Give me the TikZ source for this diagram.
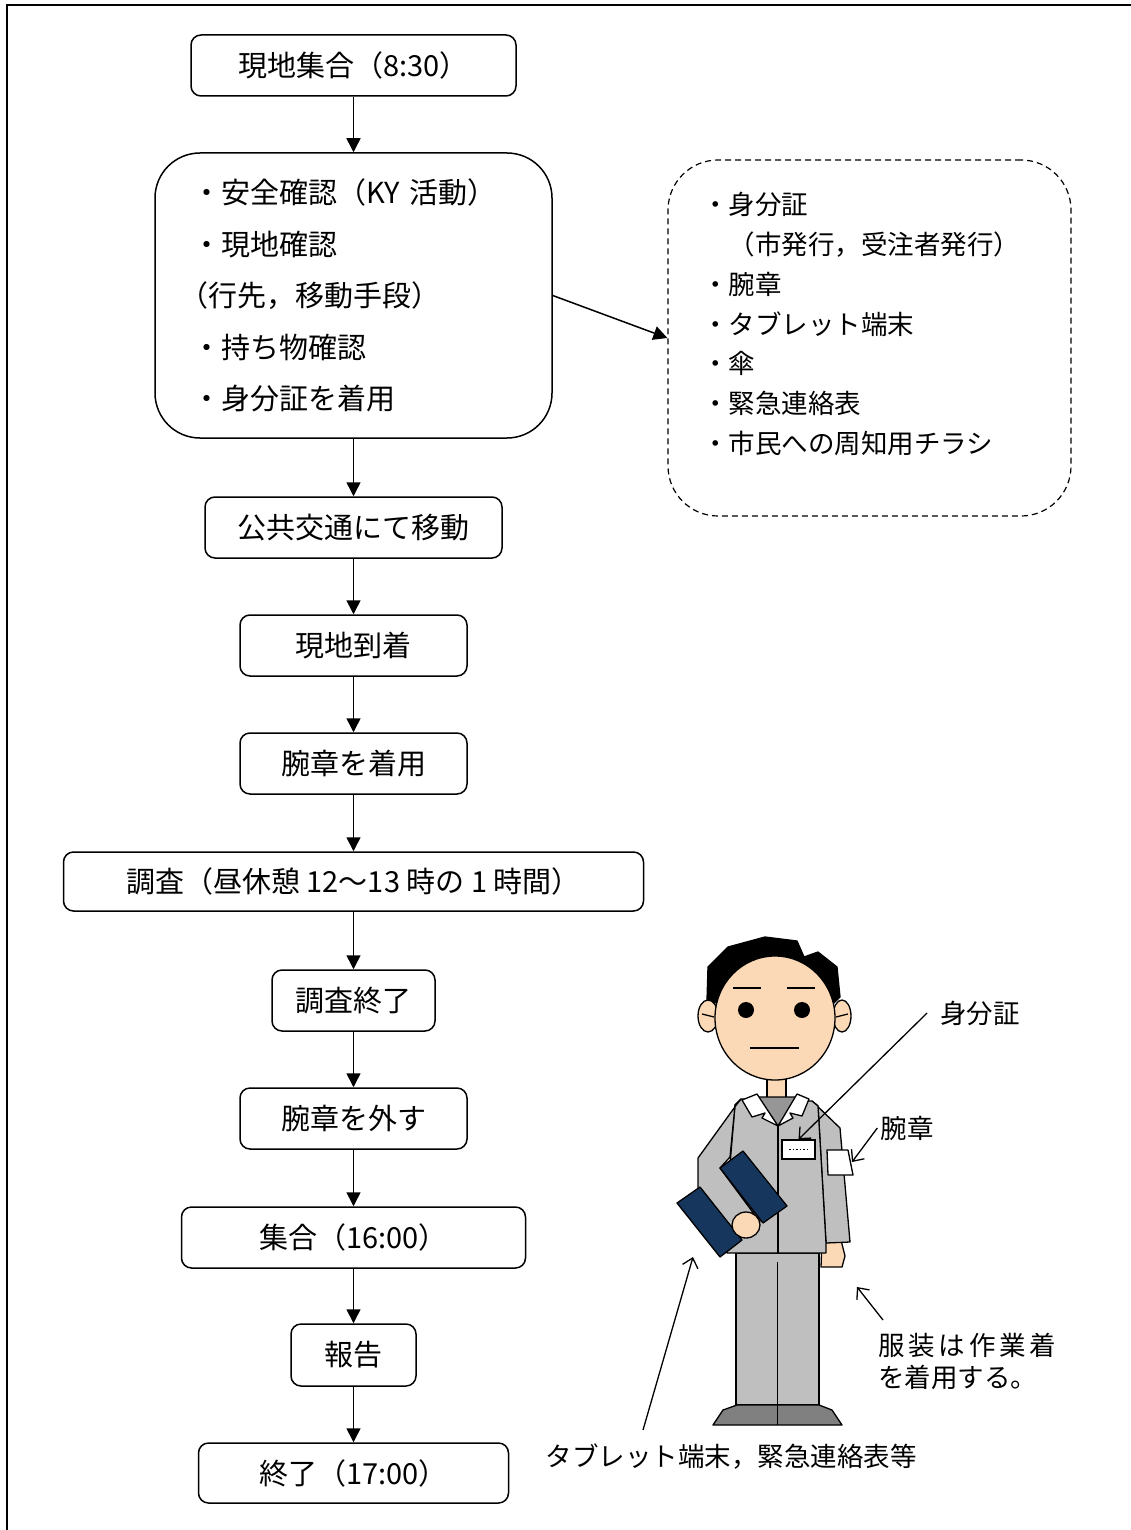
\documentclass[tikz,border=0pt]{standalone}
\usepackage{fontspec}
\setmainfont{Noto Sans CJK JP}
\usetikzlibrary{arrows.meta}

\definecolor{skin}{HTML}{FCD9B6}
\definecolor{suit}{HTML}{BFBFBF}
\definecolor{shirt}{HTML}{969696}
\definecolor{shoe}{HTML}{808080}
\definecolor{folder}{HTML}{17365D}

\tikzset{
  frame/.style={line width=1.5pt},
  flow/.style={draw, line width=1.5pt, rounded corners=10pt, inner sep=0pt,
    minimum height=61pt, font=\fontsize{29}{35}\selectfont},
  bigbox/.style={draw, line width=1.5pt, rounded corners=45pt, inner xsep=37pt,
    inner ysep=0pt, text width=323pt, minimum height=285pt, align=left,
    font=\fontsize{29}{51.5}\selectfont},
  infobox/.style={draw, line width=1.2pt, dash pattern=on 6pt off 4pt,
    rounded corners=50pt, minimum width=403pt, minimum height=356pt, inner sep=0pt},
  infotext/.style={inner sep=0pt, align=left, font=\fontsize{26.5}{39.7}\selectfont},
  link/.style={line width=1.5pt, -{Triangle[length=14pt,width=14pt]}},
  pointer/.style={line width=1.3pt, -{Straight Barb[length=9pt,width=16pt]}},
  lab/.style={inner sep=0pt, font=\fontsize{26.5}{32}\selectfont},
  fig/.style={line width=1.3pt, line join=round},
}

\begin{document}
\begin{tikzpicture}[x=1pt,y=-1pt]
\useasboundingbox (0,0) rectangle (1131,1530);
\draw[frame] (7,1530) -- (7,5) -- (1131,5);

% ---- flow of the day ----
\node[flow, minimum width=325pt] (gather) at (353.5,65.5) {現地集合（8:30）};
\node[bigbox] (check) at (353.5,295.5) {・安全確認（KY 活動）\\
・現地確認\\
\hspace*{-13pt}（行先，移動手段）\\
・持ち物確認\\
・身分証を着用};
\node[flow, minimum width=297pt] (transit) at (353.5,527.5) {公共交通にて移動};
\node[flow, minimum width=227pt] (arrive) at (353.5,645.5) {現地到着};
\node[flow, minimum width=227pt] (bandon) at (353.5,763.5) {腕章を着用};
\node[flow, minimum width=580pt, minimum height=59pt] (survey) at (353.5,881.5) {調査（昼休憩 12～13 時の 1 時間）};
\node[flow, minimum width=163pt] (surveyend) at (353.5,1000.5) {調査終了};
\node[flow, minimum width=227pt] (bandoff) at (353.5,1118.5) {腕章を外す};
\node[flow, minimum width=344pt] (regather) at (353.5,1237.5) {集合（16:00）};
\node[flow, minimum width=125pt, minimum height=62pt] (report) at (353.5,1355) {報告};
\node[flow, minimum width=310pt, minimum height=60pt] (finish) at (353.5,1473) {終了（17:00）};

\draw[link] (gather) -- (check);
\draw[link] (check) -- (transit);
\draw[link] (transit) -- (arrive);
\draw[link] (arrive) -- (bandon);
\draw[link] (bandon) -- (survey);
\draw[link] (survey) -- (surveyend);
\draw[link] (surveyend) -- (bandoff);
\draw[link] (bandoff) -- (regather);
\draw[link] (regather) -- (report);
\draw[link] (report) -- (finish);

% ---- belongings ----
\node[infobox] (info) at (869.5,338) {};
\node[infotext, anchor=west] (infolist) at (702,324) {・身分証\\
\hspace*{1em}（市発行，受注者発行）\\
・腕章\\
・タブレット端末\\
・傘\\
・緊急連絡表\\
・市民への周知用チラシ};
\draw[link] (check.east) -- (info.west);

% ---- worker figure ----
% trousers and shoes
\draw[fig, fill=suit] (736,1253) rectangle (819,1405);
\draw[fig, fill=shoe] (713,1425) -- (723,1410) -- (737,1405) -- (819,1405)
  -- (832,1410) -- (842,1425) -- cycle;
\draw[fig] (777.5,1262) -- (777.5,1425);
% hand and sleeve on the far side
\draw[fig, fill=skin] (822,1240) -- (841,1240) -- (845,1256) -- (842,1267)
  -- (821,1267) -- cycle;
\draw[fig, fill=suit] (812,1101) -- (840,1128) -- (850,1242) -- (826,1243)
  -- (818,1106) -- cycle;
% jacket body
\draw[fig, fill=suit] (741,1099) -- (812,1101) -- (818,1106) -- (826,1243)
  -- (826,1253) -- (727,1253) -- (727,1200) -- (735,1105) -- cycle;
% near sleeve
\draw[fig, fill=suit] (741,1099) -- (737,1104) -- (698,1158) -- (698,1200)
  -- (738,1240) -- (760,1222) -- (720,1168) -- (730,1157) -- (735,1105) -- cycle;
% neck, shirt and collar
\fill[skin] (767,1074) rectangle (786,1100);
\draw[fig] (767,1074) -- (767,1098) (786,1074) -- (786,1098);
\draw[fig, fill=shirt] (758,1097) -- (798,1097) -- (778,1126) -- cycle;
\draw[fig, fill=white] (742,1100) -- (757,1094) -- (778,1126) -- (762,1118)
  -- (765,1113) -- (752,1117) -- cycle;
\draw[fig, fill=white] (809,1099) -- (797,1094) -- (778,1126) -- (793,1118)
  -- (790,1113) -- (802,1116) -- cycle;
\draw[fig] (778,1126) -- (778,1253);
% name badge and armband
\node[draw, fill=white, line width=1.3pt, minimum width=33pt, minimum height=19pt,
  inner sep=0pt] (badge) at (798.5,1149.5) {};
\draw[line width=1.5pt, dash pattern=on 1.5pt off 2pt] (789,1149.5) -- (809,1149.5);
\draw[fig, fill=white] (827,1150) -- (848,1150) -- (853,1175) -- (828,1175) -- cycle;
\coordinate (bandpt) at (852,1162);
% folder held under the arm
\draw[fig, fill=folder] (720,1168) -- (743,1151) -- (787,1206) -- (763,1223) -- cycle;
\draw[fig, fill=folder] (677,1203) -- (700,1187) -- (742,1240) -- (720,1257) -- cycle;
\draw[fig, fill=skin] (746,1225) ellipse [x radius=14pt, y radius=13pt];
\coordinate (folderpt) at (693,1257);
\coordinate (suitpt) at (857,1287);
% head
\draw[fig, fill=black] (707,1000) -- (708,967) -- (728,947) -- (765,937) -- (797,941)
  -- (804,957) -- (818,952) -- (837,967) -- (840,997) -- (834,1003) -- (716,1003) -- cycle;
\draw[fig, fill=skin] (708,1016) ellipse [x radius=10pt, y radius=16pt];
\draw[fig, fill=skin] (842,1016) ellipse [x radius=9pt, y radius=16pt];
\draw[fig] (702,1014) -- (714,1017) (848,1014) -- (836,1017);
\draw[fig, fill=skin] (775,1018) ellipse [x radius=60pt, y radius=62pt];
\draw[fig] (733,988) -- (761,988) (787,988) -- (815,988);
\fill (746,1010) circle [radius=8pt];
\fill (802,1010) circle [radius=8pt];
\draw[fig] (750,1048) -- (799,1048);

% ---- callouts ----
\node[lab] (idlab) at (980,1013) {身分証};
\node[lab] (armlab) at (907,1128) {腕章};
\node[lab, anchor=north west, align=left] (wearlab) at (878,1333)
  {\makebox[178pt][s]{服\hfill 装\hfill は\hfill 作\hfill 業\hfill 着}\\を着用する。};
\node[lab] (tablab) at (731,1457) {タブレット端末，緊急連絡表等};

\draw[pointer] ([xshift=-13pt]idlab.west) -- (badge.north);
\draw[pointer] ([xshift=-3pt]armlab.west) -- (bandpt);
\draw[pointer] ([shift={(5,-13)}]wearlab.north west) -- (suitpt);
\draw[pointer] ([shift={(-88,-14)}]tablab.north) -- (folderpt);
\end{tikzpicture}
\end{document}
